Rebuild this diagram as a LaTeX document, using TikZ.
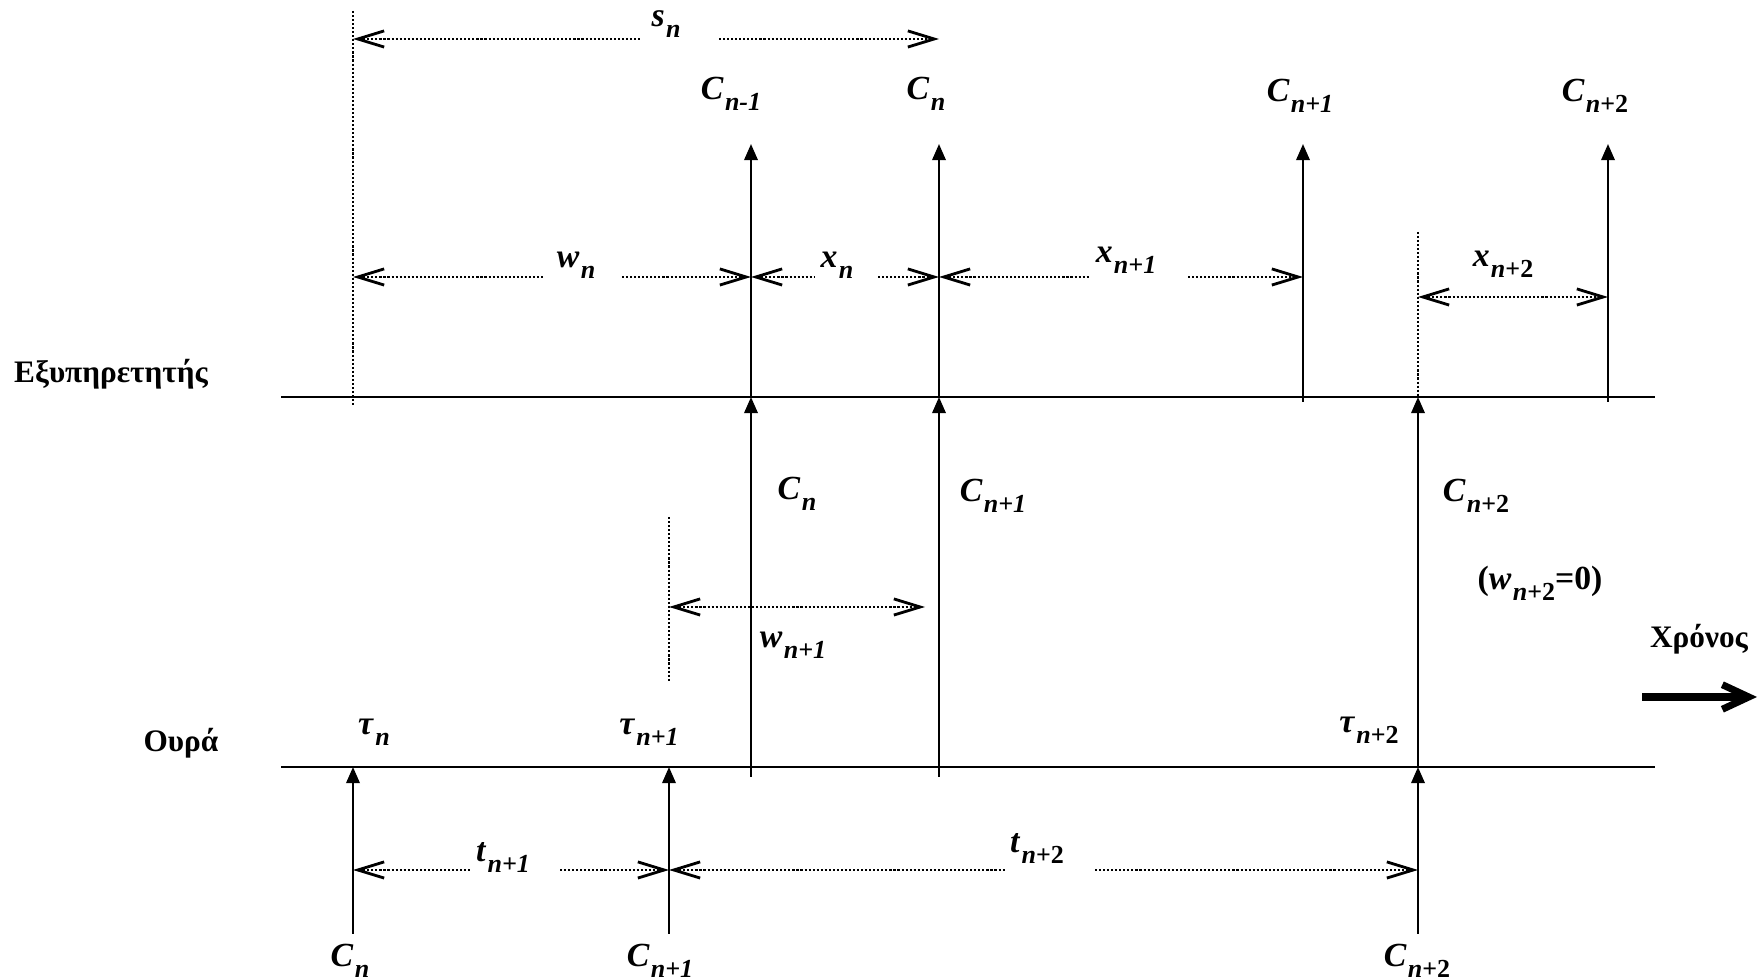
\documentclass[tikz,border=0pt]{standalone}
\usepackage{fontspec}
\setmainfont{Liberation Serif}
\usetikzlibrary{arrows.meta}
% variable with lowered subscript, as in the original figure
\newcommand\qv[2]{\textit{#1}\kern0.04em\raisebox{-0.3em}{\fontsize{7.4}{8}\selectfont\itshape #2}}

\begin{document}
\begin{tikzpicture}[x=0.1mm, y=-0.1mm,
  every node/.style={font=\fontsize{9.6}{11}\selectfont\bfseries, inner sep=0pt},
  axis/.style={line width=0.6pt},
  evt/.style={line width=0.7pt, -{Triangle[length=4.6pt,width=3.8pt]}},
  dots/.style={line width=0.75pt, dash pattern=on 0.6pt off 0.55pt,
               >={Straight Barb[length=7.5pt,width=4.6pt,line width=0.8pt]}},
  lbl/.style={anchor=base},
  word/.style={anchor=base, font=\fontsize{8.9}{11}\selectfont\bfseries}]

  \useasboundingbox (0,0) rectangle (1761,979);

  %% ─── Time axes ─────────────────────────────────────────────────────────
  \coordinate (srv_l) at (281,397);  \coordinate (srv_r) at (1655,397);
  \coordinate (q_l)   at (281,767);  \coordinate (q_r)   at (1655,767);
  \draw[axis] (srv_l) -- (srv_r);
  \draw[axis] (q_l) -- (q_r);
  \node[word] (srv_name) at (111,383) {Εξυπηρετητής};
  \node[word] (q_name)   at (181,752) {Ουρά};

  %% ─── Arrivals at the queue ─────────────────────────────────────────────
  \coordinate (arr0_b) at (353,934);  \coordinate (arr0_t) at (353,767);
  \coordinate (arr1_b) at (669,934);  \coordinate (arr1_t) at (669,767);
  \coordinate (arr2_b) at (1418,934); \coordinate (arr2_t) at (1418,767);
  \draw[evt] (arr0_b) -- (arr0_t);
  \draw[evt] (arr1_b) -- (arr1_t);
  \draw[evt] (arr2_b) -- (arr2_t);
  \node[lbl] (c_arr0) at (350,967)  {\qv{C}{n}};
  \node[lbl] (c_arr1) at (660,967)  {\qv{C}{n+1}};
  \node[lbl] (c_arr2) at (1417,967) {\qv{C}{n\upshape+2}};
  \node[lbl] (tau0) at (374,735)  {\qv{τ}{n}};
  \node[lbl] (tau1) at (649,735)  {\qv{τ}{n+1}};
  \node[lbl] (tau2) at (1369,733) {\qv{τ}{n\upshape+2}};

  %% ─── Start of service (queue -> server) ────────────────────────────────
  \coordinate (st0_b) at (751,777);  \coordinate (st0_t) at (751,397);
  \coordinate (st1_b) at (939,777);  \coordinate (st1_t) at (939,397);
  \coordinate (st2_b) at (1418,767); \coordinate (st2_t) at (1418,397);
  \draw[evt] (st0_b) -- (st0_t);
  \draw[evt] (st1_b) -- (st1_t);
  \draw[evt] (st2_b) -- (st2_t);
  \node[lbl] (c_st0) at (797,500)  {\qv{C}{n}};
  \node[lbl] (c_st1) at (993,502)  {\qv{C}{n+1}};
  \node[lbl] (c_st2) at (1476,502) {\qv{C}{n\upshape+2}};
  \node[lbl] (w_zero) at (1540,590) {(\qv{w}{n\upshape+2}=0)};

  %% ─── Departures from the server ────────────────────────────────────────
  \coordinate (dp0_b) at (751,397);  \coordinate (dp0_t) at (751,144);
  \coordinate (dp1_b) at (939,397);  \coordinate (dp1_t) at (939,144);
  \coordinate (dp2_b) at (1303,402); \coordinate (dp2_t) at (1303,144);
  \coordinate (dp3_b) at (1608,402); \coordinate (dp3_t) at (1608,144);
  \draw[evt] (dp0_b) -- (dp0_t);
  \draw[evt] (dp1_b) -- (dp1_t);
  \draw[evt] (dp2_b) -- (dp2_t);
  \draw[evt] (dp3_b) -- (dp3_t);
  \node[lbl] (c_dp0) at (731,100)  {\qv{C}{n-1}};
  \node[lbl] (c_dp1) at (926,100)  {\qv{C}{n}};
  \node[lbl] (c_dp2) at (1300,102) {\qv{C}{n+1}};
  \node[lbl] (c_dp3) at (1595,102) {\qv{C}{n\upshape+2}};

  %% ─── Guide lines ───────────────────────────────────────────────────────
  \coordinate (g0_t) at (353,11);   \coordinate (g0_b) at (353,406);
  \coordinate (g1_t) at (669,517);  \coordinate (g1_b) at (669,681);
  \coordinate (g2_t) at (1418,232); \coordinate (g2_b) at (1418,397);
  \draw[dots] (g0_t) -- (g0_b);
  \draw[dots] (g1_t) -- (g1_b);
  \draw[dots] (g2_t) -- (g2_b);

  %% ─── Interval markers ──────────────────────────────────────────────────
  % s_n
  \coordinate (s_a) at (353,39); \coordinate (s_g1) at (642,39);
  \coordinate (s_g2) at (719,39); \coordinate (s_b) at (939,39);
  \draw[dots, <-] (s_a) -- (s_g1);
  \draw[dots, ->] (s_g2) -- (s_b);
  \node[lbl] (s_txt) at (666,27) {\qv{s}{n}};
  % w_n
  \coordinate (w_a) at (353,277); \coordinate (w_g1) at (545,277);
  \coordinate (w_g2) at (622,277); \coordinate (w_b) at (751,277);
  \draw[dots, <-] (w_a) -- (w_g1);
  \draw[dots, ->] (w_g2) -- (w_b);
  \node[lbl] (w_txt) at (576,268) {\qv{w}{n}};
  % x_n
  \coordinate (x0_a) at (751,277); \coordinate (x0_g1) at (815,277);
  \coordinate (x0_g2) at (878,277); \coordinate (x0_b) at (939,277);
  \draw[dots, <-] (x0_a) -- (x0_g1);
  \draw[dots, ->] (x0_g2) -- (x0_b);
  \node[lbl] (x0_txt) at (837,268) {\qv{x}{n}};
  % x_{n+1}
  \coordinate (x1_a) at (939,277); \coordinate (x1_g1) at (1089,277);
  \coordinate (x1_g2) at (1188,277); \coordinate (x1_b) at (1303,277);
  \draw[dots, <-] (x1_a) -- (x1_g1);
  \draw[dots, ->] (x1_g2) -- (x1_b);
  \node[lbl] (x1_txt) at (1126,263) {\qv{x}{n+1}};
  % x_{n+2}
  \coordinate (x2_a) at (1418,297); \coordinate (x2_b) at (1608,297);
  \draw[dots, <->] (x2_a) -- (x2_b);
  \node[lbl] (x2_txt) at (1503,267) {\qv{x}{n\upshape+2}};
  % w_{n+1}
  \coordinate (w1_a) at (669,607); \coordinate (w1_b) at (925,607);
  \draw[dots, <->] (w1_a) -- (w1_b);
  \node[lbl] (w1_txt) at (793,648) {\qv{w}{n+1}};
  % t_{n+1}
  \coordinate (t1_a) at (353,870); \coordinate (t1_g1) at (470,870);
  \coordinate (t1_g2) at (560,870); \coordinate (t1_b) at (669,870);
  \draw[dots, <-] (t1_a) -- (t1_g1);
  \draw[dots, ->] (t1_g2) -- (t1_b);
  \node[lbl] (t1_txt) at (503,862) {\qv{t}{n+1}};
  % t_{n+2}
  \coordinate (t2_a) at (669,870); \coordinate (t2_g1) at (1006,870);
  \coordinate (t2_g2) at (1095,870); \coordinate (t2_b) at (1418,870);
  \draw[dots, <-] (t2_a) -- (t2_g1);
  \draw[dots, ->] (t2_g2) -- (t2_b);
  \node[lbl] (t2_txt) at (1037,853) {\qv{t}{n\upshape+2}};

  %% ─── Time direction ────────────────────────────────────────────────────
  \node[word] (time_txt) at (1699,648) {Χρόνος};
  \coordinate (time_a) at (1642,697); \coordinate (time_b) at (1757,697);
  \draw[line width=2pt, -{Straight Barb[length=7.5pt,width=7pt]}] (time_a) -- (time_b);
\end{tikzpicture}
\end{document}
